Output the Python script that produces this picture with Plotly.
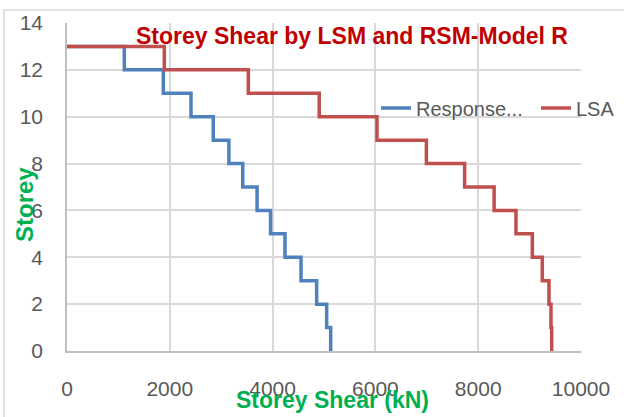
import plotly.graph_objects as go

storeys = [13, 12, 11, 10, 9, 8, 7, 6, 5, 4, 3, 2, 1]
response_shear = [1115, 1874, 2412, 2846, 3150, 3419, 3698, 3960, 4241, 4553, 4857, 5052, 5130]
lsa_shear = [1893, 3527, 4907, 6031, 6992, 7736, 8310, 8735, 9053, 9247, 9377, 9416, 9430]
x_ticks = [0, 2000, 4000, 6000, 8000, 10000]
y_ticks = [0, 2, 4, 6, 8, 10, 12, 14]

W, H = 624, 417
L, R, T, B = 67, 43, 23, 66
pw, ph = W - L - R, H - T - B


def px(x):
    return (x - L) / pw


def py(y):
    return (H - B - y) / ph


def step_xy(shear, top):
    xs = [0] + shear + [shear[-1]]
    ys = [top] + storeys + [0]
    return xs, ys


fig = go.Figure()
bx, by = step_xy(response_shear, storeys[0])
rx, ry = step_xy(lsa_shear, storeys[0])
fig.add_trace(go.Scatter(x=bx, y=by, mode="lines", line=dict(color="#4F81BD", width=3.5, shape="vh"),
                         name="Response..."))
fig.add_trace(go.Scatter(x=rx, y=ry, mode="lines", line=dict(color="#C0504D", width=3.5, shape="vh"),
                         name="LSA"))

sans = "Liberation Sans, Arial, sans-serif"
tickfont = dict(family=sans, size=21, color="#595959")
fig.update_layout(
    width=W, height=H,
    margin=dict(l=L, r=R, t=T, b=B, pad=0, autoexpand=False),
    paper_bgcolor="white", plot_bgcolor="white",
    showlegend=True,
    legend=dict(orientation="h", x=px(376), y=py(108), xanchor="left", yanchor="middle",
                font=dict(family=sans, size=20, color="#595959"),
                bgcolor="rgba(0,0,0,0)", entrywidth=115, itemwidth=30, tracegroupgap=0),
    xaxis=dict(range=[0, 10000], tickvals=x_ticks, ticktext=[str(v) for v in x_ticks],
               showgrid=True, gridcolor="#D9D9D9", gridwidth=1.5,
               showline=True, linecolor="#BFBFBF", linewidth=2, zeroline=False, ticks="",
               tickfont=tickfont, ticklabelstandoff=18, mirror=False),
    yaxis=dict(range=[0, 14], tickvals=y_ticks, ticktext=[str(v) for v in y_ticks],
               showgrid=True, gridcolor="#D9D9D9", gridwidth=1.5,
               showline=True, linecolor="#BFBFBF", linewidth=1.5, zeroline=False, ticks="",
               tickfont=tickfont, ticklabelstandoff=18),
)

fig.add_annotation(text="<b>Storey Shear by LSM and RSM-Model R</b>", xref="paper", yref="paper",
                   x=px(352), y=py(36), xanchor="center", yanchor="middle", showarrow=False,
                   font=dict(family=sans, size=23, color="#C00000"))
fig.add_annotation(text="<b>Storey</b>", xref="paper", yref="paper", textangle=-90,
                   x=px(24), y=py(205), xanchor="center", yanchor="middle", showarrow=False,
                   font=dict(family=sans, size=24, color="#00B050"))
fig.add_annotation(text="<b>Storey Shear (kN)</b>", xref="paper", yref="paper",
                   x=px(332), y=py(400), xanchor="center", yanchor="middle", showarrow=False,
                   font=dict(family=sans, size=23, color="#00B050"))
# chart area border (extends past the visible image at right and bottom)
fig.add_shape(type="rect", xref="paper", yref="paper", x0=px(4), x1=px(700), y0=py(500), y1=py(10),
              line=dict(color="#D9D9D9", width=1.5), layer="below")

fig.write_html("out.html", config={"displayModeBar": False},
               post_script="document.body.style.margin='0px';")
